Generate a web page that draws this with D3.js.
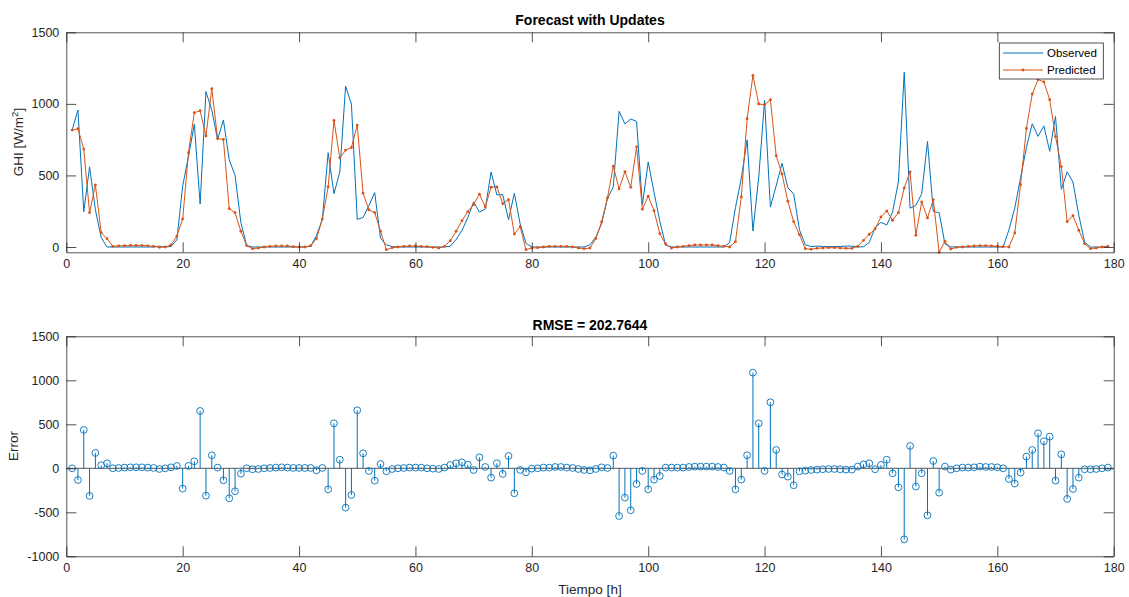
<!DOCTYPE html>
<html lang="en">
<head>
	<meta charset="UTF-8">
	<title>Forecast with Updates</title>
	<style>
		*{margin:0;padding:0;}
		body{background:#fff;}
		#container{width: 1129px; height: 597px;}
		text{font-family: Arial, "Liberation Sans", Helvetica, sans-serif;}
	</style>
</head>
<body>
	<div id="container"></div>
	<script src="https://d3js.org/d3.v7.min.js" charset="utf-8"></script>
	<script>
		// hours 1..179
		var observed = [817,957,247,560,260,66,0,0,0,0,0,0,0,0,0,6,0,4,50,427,
			633,858,300,1086,958,750,887,609,501,171,10,0,0,0,0,0,0,0,0,0,
			0,5,81,192,659,373,523,1124,998,193,206,289,380,61,15,3,0,0,0,0,
			0,0,0,0,0,6,53,116,205,315,244,265,524,363,367,191,375,161,26,0,
			0,0,0,0,0,0,0,0,0,16,68,164,339,421,948,860,894,878,294,594,
			383,180,13,0,0,0,0,0,0,0,0,0,0,30,276,479,748,112,488,1024,
			279,429,585,415,370,120,15,3,6,4,3,3,4,6,6,0,2,32,137,172,
			154,244,456,1220,271,290,372,737,248,240,21,1,0,0,0,0,0,0,0,0,
			0,121,272,485,695,861,773,846,669,912,403,525,454,223,34,0,0,0,0]
		var predicted = [817,826,684,240,434,100,58,5,8,9,11,11,11,8,5,-2,0,14,77,196,
			660,938,952,775,1106,758,751,268,240,110,10,-12,-7,0,5,7,7,7,2,0,
			0,9,58,196,420,884,621,677,695,852,376,259,240,110,-19,-5,0,5,7,7,
			5,2,-2,-7,5,44,110,184,247,296,369,280,418,420,303,331,91,142,-19,-7,
			-5,0,5,5,5,5,0,-7,-12,-7,60,175,343,565,406,527,417,700,264,355,
			254,93,21,-7,0,5,9,14,14,14,14,9,5,0,37,350,896,1199,999,994,
			1029,637,510,320,177,86,-12,-16,-9,-7,-5,-5,-7,-9,-9,5,47,89,126,210,
			252,187,240,413,525,82,315,203,331,-37,40,-14,-2,0,5,7,9,9,7,5,
			2,0,98,436,828,1069,1171,1153,1029,772,562,177,219,117,23,-12,-7,0,5]
		var errors = [0,-133,436,-314,174,34,57,0,4,8,11,11,11,8,4,-8,0,11,27,-231,
			27,80,652,-311,148,8,-136,-341,-261,-61,0,-11,-8,0,4,8,11,8,4,4,
			4,4,-23,4,-239,511,98,-447,-303,659,170,-30,-140,49,-34,-8,0,4,8,8,
			8,0,-4,-8,8,38,57,68,42,-19,125,15,-106,57,-64,140,-284,-19,-45,-4,
			0,8,8,15,15,8,4,-8,-19,-23,-8,11,4,144,-542,-333,-477,-178,-30,-239,
			-129,-87,8,8,8,8,15,19,19,19,19,15,8,-30,-239,-129,148,1087,511,-30,
			750,208,-70,-95,-193,-34,-27,-19,-15,-11,-8,-8,-11,-15,-15,19,45,57,-11,38,
			98,-57,-216,-807,254,-208,-57,-534,83,-277,19,-15,0,8,8,11,19,15,15,11,
			0,-121,-174,-49,133,208,398,307,360,-140,159,-348,-235,-106,-11,-11,-8,0,8]
		var hours = d3.range(1, observed.length + 1)
		var xTicks = d3.range(0, 181, 20)
		var yTicksTop = [0, 500, 1000, 1500]
		var yTicksBottom = [-1000, -500, 0, 500, 1000, 1500]
		var seriesNames = ['Observed', 'Predicted']
		var rmseLabel = 'RMSE = 202.7644'

		var blue = '#0072BD', orange = '#D95319', axisColor = '#262626'
		var left = 66.3, right = 1113.7
		var plain = function(d){ return String(d) }

		var svg = d3.select('#container').append('svg').attr('width', 1129).attr('height', 597)

		var scale_x = d3.scaleLinear().domain([0, 180]).range([left, right])
		var scale_y1 = d3.scaleLinear().domain([-37, 1500]).range([252.3, 32.3])
		var scale_y2 = d3.scaleLinear().domain([-1000, 1500]).range([556.3, 336.3])

		function drawAxes(ys, yTicks, y0, y1){
			var g = svg.append('g').attr('color', axisColor)
			g.append('g').attr('transform', `translate(0,${y1})`)
				.call(d3.axisBottom(scale_x).tickValues(xTicks).tickFormat(plain).tickSizeInner(-10).tickSizeOuter(0).tickPadding(7))
			g.append('g').attr('transform', `translate(0,${y0})`)
				.call(d3.axisTop(scale_x).tickValues(xTicks).tickSizeInner(-10).tickSizeOuter(0).tickFormat(''))
			g.append('g').attr('transform', `translate(${left},0)`)
				.call(d3.axisLeft(ys).tickValues(yTicks).tickFormat(plain).tickSizeInner(-10).tickSizeOuter(0).tickPadding(7))
			g.append('g').attr('transform', `translate(${right},0)`)
				.call(d3.axisRight(ys).tickValues(yTicks).tickSizeInner(-10).tickSizeOuter(0).tickFormat(''))
			g.selectAll('.domain').attr('stroke', axisColor).attr('stroke-width', 0.8)
			g.selectAll('.tick line').attr('stroke', axisColor).attr('stroke-width', 0.8)
			g.selectAll('.tick text').attr('fill', axisColor).attr('font-size', 12.5)
				.attr('font-family', 'Arial, "Liberation Sans", sans-serif')
			return g
		}

		// ---------- top: forecast ----------
		var gTop = svg.append('g')
		var line_g = d3.line().x(function(d, i){ return scale_x(hours[i]) }).y(function(d){ return scale_y1(d) })
		gTop.append('path').attr('d', line_g(observed))
			.attr('fill', 'none').attr('stroke', blue).attr('stroke-width', 1)
		gTop.append('path').attr('d', line_g(predicted))
			.attr('fill', 'none').attr('stroke', orange).attr('stroke-width', 1)
		gTop.selectAll('.dot').data(predicted).enter().append('circle')
			.attr('cx', function(d, i){ return scale_x(hours[i]) })
			.attr('cy', function(d){ return scale_y1(d) })
			.attr('r', 1.4).attr('fill', orange)
		drawAxes(scale_y1, yTicksTop, 32.3, 252.3)

		svg.append('text').text('Forecast with Updates')
			.attr('x', (left + right) / 2).attr('y', 25)
			.attr('text-anchor', 'middle').attr('font-weight', 'bold')
			.attr('font-size', 14).attr('fill', '#000')

		var ylab = svg.append('text').attr('transform', 'translate(23,142) rotate(-90)')
			.attr('text-anchor', 'middle').attr('font-size', 13.5).attr('fill', axisColor)
		ylab.append('tspan').text('GHI [W/m')
		ylab.append('tspan').text('2').attr('font-size', 9.5).attr('dy', -5)
		ylab.append('tspan').text(']').attr('dy', 5)

		// legend
		var lg = svg.append('g')
		lg.append('rect').attr('x', 999.3).attr('y', 43).attr('width', 104).attr('height', 36)
			.attr('fill', '#fff').attr('stroke', axisColor).attr('stroke-width', 0.8)
		var lgColors = [blue, orange]
		seriesNames.forEach(function(name, i){
			var yy = 53 + i * 17
			lg.append('line').attr('x1', 1003).attr('x2', 1043).attr('y1', yy).attr('y2', yy)
				.attr('stroke', lgColors[i]).attr('stroke-width', 1)
			if(i === 1){
				lg.append('circle').attr('cx', 1023).attr('cy', yy).attr('r', 1.4).attr('fill', orange)
			}
			lg.append('text').text(name).attr('x', 1047).attr('y', yy + 4.2)
				.attr('font-size', 11.5).attr('fill', '#000')
		})

		// ---------- bottom: errors ----------
		var gBot = svg.append('g')
		gBot.append('line').attr('x1', left).attr('x2', right)
			.attr('y1', scale_y2(0)).attr('y2', scale_y2(0))
			.attr('stroke', '#555').attr('stroke-width', 1)
		gBot.selectAll('.stem').data(errors).enter().append('line')
			.attr('x1', function(d, i){ return scale_x(hours[i]) })
			.attr('x2', function(d, i){ return scale_x(hours[i]) })
			.attr('y1', scale_y2(0))
			.attr('y2', function(d){ return scale_y2(d) })
			.attr('stroke', blue).attr('stroke-width', 1)
		gBot.selectAll('.mk').data(errors).enter().append('circle')
			.attr('cx', function(d, i){ return scale_x(hours[i]) })
			.attr('cy', function(d){ return scale_y2(d) })
			.attr('r', 3.4).attr('fill', 'none').attr('stroke', blue).attr('stroke-width', 0.9)
		drawAxes(scale_y2, yTicksBottom, 336.3, 556.3)

		svg.append('text').text(rmseLabel)
			.attr('x', (left + right) / 2).attr('y', 330)
			.attr('text-anchor', 'middle').attr('font-weight', 'bold')
			.attr('font-size', 14).attr('fill', '#000')

		svg.append('text').text('Error').attr('transform', 'translate(18,446) rotate(-90)')
			.attr('text-anchor', 'middle').attr('font-size', 13.5).attr('fill', axisColor)

		svg.append('text').text('Tiempo [h]').attr('x', (left + right) / 2).attr('y', 594)
			.attr('text-anchor', 'middle').attr('font-size', 13.5).attr('fill', axisColor)
	</script>
</body>
</html>
